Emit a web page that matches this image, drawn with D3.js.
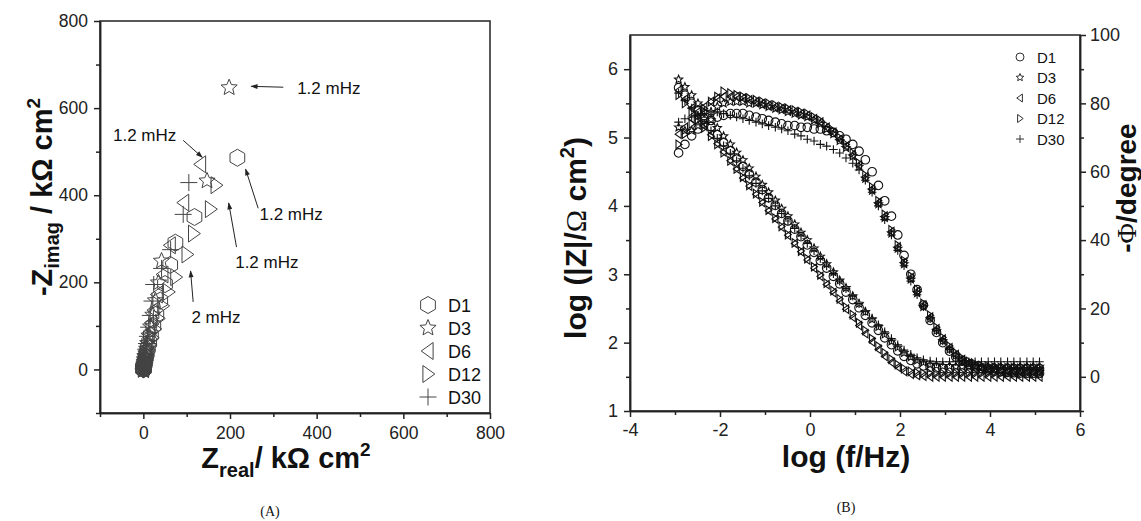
<!DOCTYPE html>
<html>
<head>
<meta charset="utf-8">
<script src="https://cdn.jsdelivr.net/npm/d3@7"></script>
<style>
    body { margin: 0; background: #fff; }
    text { font-family: Arial, "Liberation Sans", sans-serif; fill: #111; }
    .axis path, .axis line { stroke: #222; stroke-width: 1.5px; }
    .axis text { font-size: 17.5px; fill: #222; font-family: Arial, "Liberation Sans", sans-serif; }
    .bode .axis text { font-size: 18px; }
</style>
</head>
<body>
<div id="chart"></div>
<script>

// ---------- (A) Nyquist data, kOhm cm2 ----------
let seriesNames = ["D1", "D3", "D6", "D12", "D30"];

let nyqRealD1 = [217, 118, 74, 62, 50, 39, 30, 23, 17.5, 13.5, 10.3, 7.9, 6, 4.6, 3.5, 2.7, 2, 1.55, 1.2, 0.9, 0.7, 0.5, 0.4, 0.3, 0.2, 0.15, 0.1];
let nyqImagD1 = [486, 350, 291, 240, 196, 158, 126, 100, 79, 62, 49, 38, 29.5, 23, 17.7, 13.6, 10.4, 8, 6.1, 4.7, 3.6, 2.7, 2.1, 1.6, 1.2, 0.9, 0.6];

let nyqRealD3 = [198, 147, 42, 35, 28, 22, 17, 13.2, 10.2, 7.8, 6, 4.6, 3.5, 2.7, 2.1, 1.6, 1.2, 0.95, 0.7, 0.55, 0.42, 0.32, 0.25, 0.19, 0.15, 0.1];
let nyqImagD3 = [647, 433, 249, 199, 158, 125, 98, 77, 60, 47, 36.5, 28.5, 22, 17, 13, 10, 7.7, 5.9, 4.5, 3.5, 2.7, 2, 1.6, 1.2, 0.9, 0.6];

let nyqRealD6 = [132, 93, 62, 45, 32, 24, 18, 13.5, 10.2, 7.7, 5.8, 4.4, 3.3, 2.5, 1.9, 1.45, 1.1, 0.82, 0.62, 0.47, 0.36, 0.27, 0.2, 0.15, 0.1];
let nyqImagD6 = [471, 383, 285, 218, 172, 136, 107, 84, 65, 50.5, 39, 30, 23, 17.7, 13.6, 10.4, 8, 6.1, 4.7, 3.6, 2.7, 2.1, 1.6, 1.2, 0.9];

let nyqRealD12 = [168, 155, 116, 101, 75, 58, 45, 35, 27, 21, 16, 12.3, 9.4, 7.2, 5.5, 4.2, 3.2, 2.4, 1.85, 1.4, 1.05, 0.8, 0.6, 0.45, 0.34];
let nyqImagD12 = [423, 368, 312, 264, 212, 178, 146, 117, 93, 73, 57, 44.5, 34.5, 26.8, 20.8, 16.1, 12.5, 9.7, 7.5, 5.8, 4.5, 3.5, 2.7, 2.1, 1.6];

let nyqRealD30 = [105, 92, 63, 42, 24, 20, 16, 12.3, 9.5, 7.3, 5.6, 4.3, 3.3, 2.5, 1.9, 1.45, 1.1, 0.85, 0.65, 0.5, 0.38, 0.29, 0.22, 0.17, 0.13];
let nyqImagD30 = [429, 356, 275, 232, 195, 157, 124, 97, 76, 59.5, 46.5, 36.5, 28.5, 22.3, 17.4, 13.6, 10.6, 8.3, 6.5, 5, 3.9, 3.1, 2.4, 1.9, 1.5];

// frequency labels on the Nyquist plot: [text, textX, textY, arrow x1, y1, x2, y2]
let nyqNotes = [
    ["1.2 mHz", 355, 646, 323, 648, 249, 650],
    ["1.2 mHz", 76, 538, 92, 526, 136, 487],
    ["1.2 mHz", 268, 357, 265, 370, 236, 460],
    ["1.2 mHz", 212, 246, 215, 281, 197, 382],
    ["2 mHz", 111, 120, 115, 155, 109, 226]
];
let nyqTicks = [0, 200, 400, 600, 800];
let nyqMinor = [-100, 100, 300, 500, 700];

// ---------- (B) Bode data ----------
let logF = [-2.92, -2.78, -2.63, -2.49, -2.35, -2.2, -2.06, -1.92, -1.77, -1.63, -1.49, -1.35, -1.2, -1.06, -0.92,
    -0.77, -0.63, -0.49, -0.34, -0.2, -0.06, 0.09, 0.23, 0.37, 0.52, 0.66, 0.8, 0.95, 1.09, 1.23, 1.38, 1.52, 1.66,
    1.81, 1.95, 2.09, 2.24, 2.38, 2.52, 2.67, 2.81, 2.95, 3.1, 3.24, 3.38, 3.53, 3.67, 3.81, 3.96, 4.1, 4.24, 4.39,
    4.53, 4.67, 4.82, 4.96, 5.1];

// log |Z| (Ohm cm2)
let logZD1 = [5.73, 5.62, 5.5, 5.39, 5.27, 5.16, 5.04, 4.93, 4.81, 4.7, 4.58, 4.47, 4.35, 4.24, 4.12, 4.01, 3.89, 3.78,
    3.66, 3.55, 3.43, 3.32, 3.2, 3.09, 2.97, 2.86, 2.74, 2.63, 2.51, 2.4, 2.29, 2.18, 2.07, 1.97, 1.88, 1.8, 1.74, 1.69,
    1.66, 1.64, 1.63, 1.62, 1.62, 1.62, 1.62, 1.62, 1.62, 1.62, 1.62, 1.62, 1.62, 1.62, 1.62, 1.62, 1.62, 1.62, 1.62];
let logZD3 = [5.85, 5.74, 5.62, 5.5, 5.38, 5.26, 5.14, 5.02, 4.9, 4.78, 4.67, 4.55, 4.43, 4.31, 4.2, 4.08, 3.96, 3.85,
    3.73, 3.61, 3.5, 3.38, 3.26, 3.15, 3.03, 2.91, 2.8, 2.68, 2.57, 2.45, 2.34, 2.23, 2.12, 2.02, 1.93, 1.85, 1.79, 1.74,
    1.71, 1.68, 1.67, 1.66, 1.66, 1.65, 1.65, 1.65, 1.65, 1.65, 1.65, 1.65, 1.65, 1.65, 1.65, 1.65, 1.65, 1.65, 1.65];
let logZD6 = [5.69, 5.56, 5.43, 5.3, 5.17, 5.04, 4.91, 4.79, 4.66, 4.54, 4.41, 4.29, 4.17, 4.05, 3.93, 3.81, 3.69, 3.57,
    3.45, 3.33, 3.21, 3.09, 2.97, 2.85, 2.73, 2.61, 2.49, 2.37, 2.25, 2.13, 2.01, 1.9, 1.8, 1.71, 1.64, 1.58, 1.54, 1.52,
    1.51, 1.5, 1.5, 1.5, 1.5, 1.5, 1.5, 1.5, 1.5, 1.5, 1.5, 1.5, 1.5, 1.5, 1.5, 1.5, 1.5, 1.5, 1.5];
let logZD12 = [5.62, 5.5, 5.38, 5.26, 5.14, 5.02, 4.9, 4.78, 4.66, 4.54, 4.42, 4.3, 4.18, 4.06, 3.94, 3.82, 3.7, 3.58,
    3.46, 3.34, 3.23, 3.11, 2.99, 2.87, 2.76, 2.64, 2.52, 2.41, 2.29, 2.18, 2.06, 1.95, 1.85, 1.76, 1.68, 1.62, 1.58, 1.56,
    1.55, 1.55, 1.55, 1.55, 1.55, 1.55, 1.55, 1.55, 1.55, 1.55, 1.55, 1.55, 1.55, 1.55, 1.55, 1.55, 1.55, 1.55, 1.55];
let logZD30 = [5.65, 5.54, 5.43, 5.32, 5.21, 5.1, 4.99, 4.88, 4.77, 4.66, 4.55, 4.44, 4.33, 4.22, 4.11, 4.0, 3.89, 3.78,
    3.67, 3.56, 3.45, 3.34, 3.23, 3.12, 3.01, 2.9, 2.79, 2.68, 2.57, 2.46, 2.36, 2.26, 2.16, 2.06, 1.97, 1.89, 1.83, 1.78,
    1.75, 1.73, 1.72, 1.72, 1.72, 1.72, 1.72, 1.72, 1.72, 1.72, 1.72, 1.72, 1.72, 1.72, 1.72, 1.72, 1.72, 1.72, 1.72];

// -phase (degree)
let phaseD1 = [65.5, 68, 70.5, 72.5, 74, 75, 76, 76.5, 77, 77, 77, 76.5, 76, 75.5, 75, 74.5, 74, 73.5, 73.5, 73, 73,
    72.5, 72.5, 72, 71.5, 70.5, 69.5, 68, 66, 63.5, 60, 56, 51.5, 47, 41.5, 35.5, 30, 25.5, 21, 16.5, 13, 10, 7.5, 5.8,
    4.6, 3.6, 2.9, 2.4, 2, 1.7, 1.5, 1.3, 1.2, 1.1, 1, 1, 1];
let phaseD3 = [73, 72, 72, 73.5, 75.5, 77.5, 79, 80, 80.5, 80.5, 80.5, 80, 80, 79.5, 79, 78.5, 78, 77.5, 77, 76.5, 76,
    75, 74, 72.5, 71, 69, 67, 64.5, 61.5, 58, 54.5, 50.5, 46.5, 42, 37.5, 33, 28.5, 24.5, 20.5, 17, 13.5, 10.5, 8, 6.2,
    4.8, 3.8, 3.1, 2.6, 2.2, 2, 1.8, 1.7, 1.6, 1.6, 1.5, 1.5, 1.5];
let phaseD6 = [71, 73, 75.5, 77.5, 79, 80.5, 81.5, 82, 82, 82, 81.5, 81, 80.5, 80, 79.5, 79, 78.5, 78, 77.5, 77, 76.5,
    75.5, 74.5, 73, 71.5, 69.5, 67.5, 65, 62, 58.5, 55, 51, 47, 42.5, 38, 33.5, 29, 25, 21, 17.5, 14, 11, 8.5, 6.5, 5,
    4, 3.2, 2.6, 2.2, 2, 1.8, 1.6, 1.5, 1.4, 1.3, 1.3, 1.2];
let phaseD12 = [68, 71, 74, 76.5, 78.5, 80.5, 82, 83.5, 83, 82.5, 82, 81.5, 81, 80.5, 80, 79.5, 79, 78.5, 78, 77.5, 77,
    76, 75, 73.5, 72, 70, 68, 65.5, 62.5, 59, 55.5, 51.5, 47.5, 43, 38.5, 34, 29.5, 25.5, 21.5, 18, 14.5, 11.5, 9, 7,
    5.5, 4.5, 3.8, 3.3, 3, 2.8, 2.7, 2.6, 2.6, 2.5, 2.5, 2.5, 2.5];
let phaseD30 = [74.5, 75.5, 76, 76.5, 77, 77.5, 77.5, 77, 76.5, 76, 75.5, 75, 74.5, 74, 73.5, 73, 72.5, 72, 71, 70.5,
    69.5, 69, 68, 67.5, 66.5, 65.5, 64, 62.5, 60.5, 57.5, 54, 50, 46, 41.5, 37, 32.5, 28, 24, 20.5, 17, 13.5, 10.5, 8,
    6, 4.8, 4, 3.5, 3.2, 3, 2.9, 2.8, 2.8, 2.7, 2.7, 2.7, 2.7, 2.7];

let bodeXTicks = [-4, -2, 0, 2, 4, 6];
let bodeXMinor = [-3, -1, 1, 3, 5];
let bodeZTicks = [1, 2, 3, 4, 5, 6];
let bodeZMinor = [1.5, 2.5, 3.5, 4.5, 5.5];
let bodePTicks = [0, 20, 40, 60, 80, 100];
let bodePMinor = [-10, 10, 30, 50, 70, 90];

// symbol per series: Nyquist / Bode
let nyqShapes = ["hexagon", "star", "triLeft", "triRight", "plus"];
let bodeShapes = ["circle", "star", "triLeft", "triRight", "plus"];

let nyqSeries = [
    {real: nyqRealD1, imag: nyqImagD1},
    {real: nyqRealD3, imag: nyqImagD3},
    {real: nyqRealD6, imag: nyqImagD6},
    {real: nyqRealD12, imag: nyqImagD12},
    {real: nyqRealD30, imag: nyqImagD30}
];
let bodeSeries = [
    {z: logZD1, p: phaseD1},
    {z: logZD3, p: phaseD3},
    {z: logZD6, p: phaseD6},
    {z: logZD12, p: phaseD12},
    {z: logZD30, p: phaseD30}
];

// outline path for each marker type
function shapePath(shape, r) {
    let pts;
    if (shape === "circle") {
        return `M${r},0A${r},${r} 0 1,1 ${-r},0A${r},${r} 0 1,1 ${r},0Z`;
    }
    if (shape === "plus") {
        return `M${-r},0H${r}M0,${-r}V${r}`;
    }
    if (shape === "hexagon") {
        pts = d3.range(6).map(k => {
            let a = (k * 60 - 90) * Math.PI / 180;
            return [r * Math.cos(a), r * Math.sin(a)];
        });
    } else if (shape === "star") {
        pts = d3.range(10).map(k => {
            let a = (k * 36 - 90) * Math.PI / 180;
            let rr = k % 2 === 0 ? r : r * 0.45;
            return [rr * Math.cos(a), rr * Math.sin(a)];
        });
    } else if (shape === "triLeft") {
        pts = [[-r * 0.8, 0], [r * 0.6, -r], [r * 0.6, r]];
    } else {
        pts = [[r * 0.8, 0], [-r * 0.6, -r], [-r * 0.6, r]];
    }
    return "M" + pts.map(p => p[0].toFixed(2) + "," + p[1].toFixed(2)).join("L") + "Z";
}

let svg = d3.select("#chart").append("svg")
    .attr("width", 1141)
    .attr("height", 521);

svg.append("defs").append("marker")
    .attr("id", "arrowHead")
    .attr("viewBox", "0 0 10 10")
    .attr("refX", 9)
    .attr("refY", 5)
    .attr("markerWidth", 8)
    .attr("markerHeight", 7)
    .attr("orient", "auto")
    .append("path")
    .attr("d", "M0,1.5L10,5L0,8.5Z")
    .attr("fill", "#222");

// major + minor ticks for one axis (plain hyphen for negatives)
function addAxis(parent, axisFn, scale, majors, minors, translate, pad) {
    parent.append("g")
        .attr("class", "axis")
        .attr("transform", translate)
        .call(axisFn(scale).tickValues(minors).tickSize(4).tickSizeOuter(0).tickFormat(""));
    parent.append("g")
        .attr("class", "axis")
        .attr("transform", translate)
        .call(axisFn(scale).tickValues(majors).tickSize(6).tickSizeOuter(0).tickPadding(pad)
            .tickFormat(d => String(d)));
}

/* * * * * * (A) Nyquist * * * * * */
let A = {left: 100, right: 490, top: 21, bottom: 413};
let gA = svg.append("g").attr("class", "nyquist");

let ax = d3.scaleLinear().domain([-100, 800]).range([A.left, A.right]);
let ay = d3.scaleLinear().domain([-100, 800]).range([A.bottom, A.top]);

gA.append("rect")
    .attr("x", A.left).attr("y", A.top)
    .attr("width", A.right - A.left).attr("height", A.bottom - A.top)
    .attr("fill", "none").attr("stroke", "#222").attr("stroke-width", 1.5);

addAxis(gA, d3.axisBottom, ax, nyqTicks, nyqMinor, `translate(0,${A.bottom})`, 8);
addAxis(gA, d3.axisLeft, ay, nyqTicks, nyqMinor, `translate(${A.left},0)`, 6);

nyqSeries.forEach((s, i) => {
    gA.append("g").selectAll("path")
        .data(s.real.map((d, j) => [d, s.imag[j]]))
        .join("path")
        .attr("d", shapePath(nyqShapes[i], 8.5))
        .attr("transform", d => `translate(${ax(d[0])},${ay(d[1])})`)
        .attr("fill", "none")
        .attr("stroke", "#444")
        .attr("stroke-width", 1);
});

// annotations
nyqNotes.forEach(n => {
    gA.append("text")
        .attr("x", ax(n[1]))
        .attr("y", ay(n[2]) + 6)
        .attr("text-anchor", n[1] < 100 ? "end" : "start")
        .style("font-size", "17px")
        .text(n[0]);
    gA.append("line")
        .attr("x1", ax(n[3])).attr("y1", ay(n[4]))
        .attr("x2", ax(n[5])).attr("y2", ay(n[6]))
        .attr("stroke", "#222").attr("stroke-width", 1)
        .attr("marker-end", "url(#arrowHead)");
});

// legend A
seriesNames.forEach((name, i) => {
    let y = 305 + i * 23;
    gA.append("path")
        .attr("d", shapePath(nyqShapes[i], 8.5))
        .attr("transform", `translate(428,${y})`)
        .attr("fill", "none").attr("stroke", "#444").attr("stroke-width", 1);
    gA.append("text")
        .attr("x", 448).attr("y", y + 6.5)
        .style("font-size", "18px")
        .text(name);
});

// axis titles A
gA.append("text")
    .attr("transform", "translate(52,197) rotate(-90)")
    .attr("text-anchor", "middle")
    .style("font-size", "29px").style("font-weight", "bold")
    .html('-Z<tspan dy="7" font-size="20">imag</tspan><tspan dy="-7"> / k\u03A9 cm</tspan><tspan dy="-12" font-size="19">2</tspan>');

gA.append("text")
    .attr("x", 286).attr("y", 468)
    .attr("text-anchor", "middle")
    .style("font-size", "29px").style("font-weight", "bold")
    .html('Z<tspan dy="9" font-size="20">real</tspan><tspan dy="-9">/ k\u03A9 cm</tspan><tspan dy="-12" font-size="19">2</tspan>');

gA.append("text")
    .attr("x", 270).attr("y", 516)
    .attr("text-anchor", "middle")
    .style("font-family", "'Liberation Serif', 'Times New Roman', serif")
    .style("font-size", "14px")
    .text("(A)");

/* * * * * * (B) Bode * * * * * */
let B = {left: 630, right: 1080, top: 35, bottom: 411};
let gB = svg.append("g").attr("class", "bode");

let bx = d3.scaleLinear().domain([-4, 6]).range([B.left, B.right]);
let bz = d3.scaleLinear().domain([1, 6.5]).range([B.bottom, B.top]);
let bp = d3.scaleLinear().domain([-10, 100]).range([B.bottom, B.top]);

gB.append("rect")
    .attr("x", B.left).attr("y", B.top)
    .attr("width", B.right - B.left).attr("height", B.bottom - B.top)
    .attr("fill", "none").attr("stroke", "#222").attr("stroke-width", 1.5);

addAxis(gB, d3.axisBottom, bx, bodeXTicks, bodeXMinor, `translate(0,${B.bottom})`, 6);
addAxis(gB, d3.axisLeft, bz, bodeZTicks, bodeZMinor, `translate(${B.left},0)`, 6);
addAxis(gB, d3.axisRight, bp, bodePTicks, bodePMinor, `translate(${B.right},0)`, 4);

bodeSeries.forEach((s, i) => {
    let g = gB.append("g");
    g.selectAll(".mod")
        .data(logF.map((f, j) => [f, s.z[j]]))
        .join("path")
        .attr("class", "mod")
        .attr("d", shapePath(bodeShapes[i], 4.3))
        .attr("transform", d => `translate(${bx(d[0])},${bz(d[1])})`)
        .attr("fill", "none").attr("stroke", "#111").attr("stroke-width", 1.1);
    g.selectAll(".pha")
        .data(logF.map((f, j) => [f, s.p[j]]))
        .join("path")
        .attr("class", "pha")
        .attr("d", shapePath(bodeShapes[i], 4.3))
        .attr("transform", d => `translate(${bx(d[0])},${bp(d[1])})`)
        .attr("fill", "none").attr("stroke", "#111").attr("stroke-width", 1.1);
});

// legend B
seriesNames.forEach((name, i) => {
    let y = 57 + i * 20.5;
    gB.append("path")
        .attr("d", shapePath(bodeShapes[i], 4))
        .attr("transform", `translate(1020,${y})`)
        .attr("fill", "none").attr("stroke", "#333").attr("stroke-width", 1);
    gB.append("text")
        .attr("x", 1037).attr("y", y + 5.5)
        .style("font-size", "15px")
        .text(name);
});

// axis titles B
gB.append("text")
    .attr("transform", "translate(586,238) rotate(-90)")
    .attr("text-anchor", "middle")
    .style("font-size", "30px").style("font-weight", "bold")
    .html('log (|Z|/<tspan font-weight="normal" font-family="\'Liberation Serif\', serif">\u03A9</tspan> cm<tspan dy="-12" font-size="20">2</tspan><tspan dy="12">)</tspan>');

gB.append("text")
    .attr("x", 846).attr("y", 467)
    .attr("text-anchor", "middle")
    .style("font-size", "30px").style("font-weight", "bold")
    .text("log (f/Hz)");

gB.append("text")
    .attr("transform", "translate(1136,188) rotate(-90)")
    .attr("text-anchor", "middle")
    .style("font-size", "28px").style("font-weight", "bold")
    .html('-<tspan font-weight="normal" font-family="\'Liberation Serif\', serif">\u03A6</tspan>/degree');

gB.append("text")
    .attr("x", 846).attr("y", 512)
    .attr("text-anchor", "middle")
    .style("font-family", "'Liberation Serif', 'Times New Roman', serif")
    .style("font-size", "14px")
    .text("(B)");

</script>
</body>
</html>
